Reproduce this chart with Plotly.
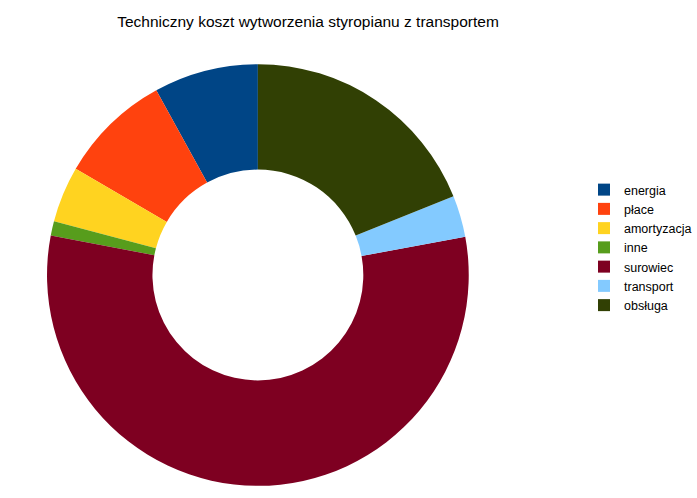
import plotly.graph_objects as go

categories = ["energia", "płace", "amortyzacja", "inne", "surowiec", "transport", "obsługa"]
values = [8.0, 8.6, 4.3, 1.1, 55.9, 3.2, 18.9]
colors = ["#004586", "#ff420e", "#ffd320", "#579d1c", "#7e0021", "#83caff", "#314004"]

W, H = 697, 498
cx, cy, r = 260.5, 275, 213

# Plotly's counterclockwise mode places the first slice clockwise of the start
# angle, so rotate back by the first slice to make it start at 12 o'clock.
first_angle = 360.0 * values[0] / sum(values)

fig = go.Figure(go.Pie(
    labels=categories,
    values=values,
    marker=dict(colors=colors, line=dict(width=0)),
    hole=0.5,
    sort=False,
    direction="counterclockwise",
    rotation=-first_angle,
    textinfo="none",
    hoverinfo="label+percent",
    domain=dict(x=[(cx - r) / W, (cx + r) / W], y=[(H - cy - r) / H, (H - cy + r) / H]),
))

fig.update_layout(
    width=W, height=H,
    margin=dict(l=0, r=0, t=0, b=0),
    paper_bgcolor="white",
    plot_bgcolor="white",
    title=dict(
        text="Techniczny koszt wytworzenia styropianu z transportem",
        x=308 / W, xanchor="center",
        y=1 - 22 / H, yanchor="middle",
        font=dict(family="Liberation Sans, Arial", size=15.5, color="#000000"),
    ),
    legend=dict(
        x=590 / W, xanchor="left",
        y=1 - 175 / H, yanchor="top",
        font=dict(family="Liberation Sans, Arial", size=12.5, color="#000000"),
        tracegroupgap=0,
        bgcolor="rgba(0,0,0,0)",
    ),
    showlegend=True,
)

fig.write_html("out.html", config={"displayModeBar": False},
               post_script="document.body.style.margin='0';")
